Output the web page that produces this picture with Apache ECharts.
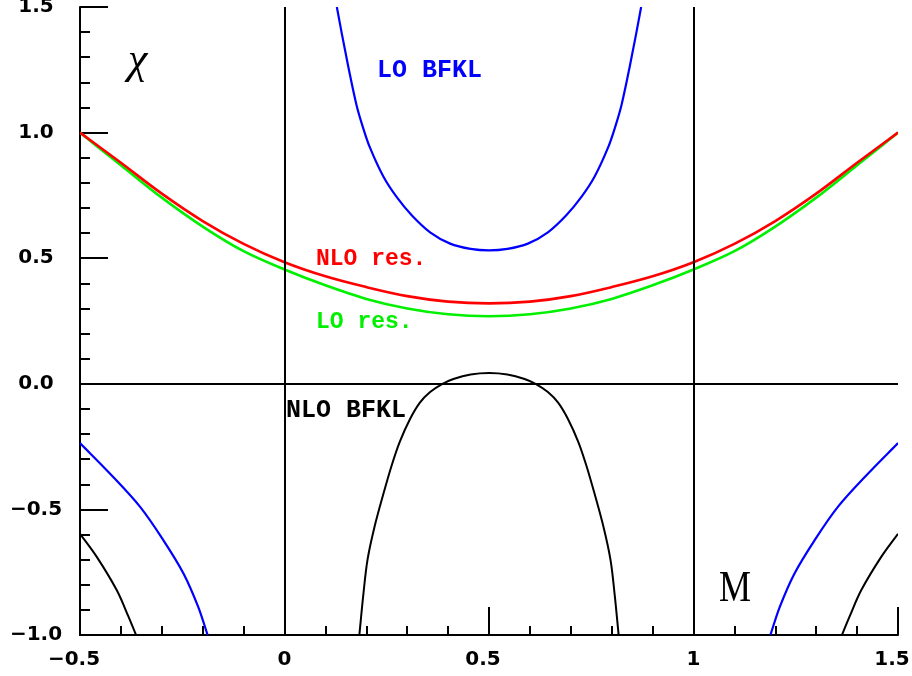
<!DOCTYPE html>
<html>
<head>
<meta charset="utf-8">
<script src="https://cdn.jsdelivr.net/npm/echarts@6/dist/echarts.min.js"></script>
<style>
html,body{margin:0;padding:0;background:#fff;}
#chart{width:912px;height:676px;}
</style>
</head>
<body>
<div id="chart"></div>
<script>
// ---- data ----
const xTicks = [-0.5, 0, 0.5, 1, 1.5];
const xTickLabels = ['\u22120.5', '0', '0.5', '1', '1.5'];
const yTicks = [-1, -0.5, 0, 0.5, 1, 1.5];
const yTickLabels = ['\u22121.0', '\u22120.5', '0.0', '0.5', '1.0', '1.5'];

const refLinesX = [0, 1];
const refLinesY = [0];

// LO BFKL (blue)
const loBfklMid = [[0.128,1.50],[0.140,1.395],[0.156,1.262],[0.176,1.110],[0.192,1.020],[0.209,0.940],[0.242,0.824],[0.274,0.744],[0.311,0.671],[0.356,0.603],[0.405,0.558],[0.455,0.537],[0.5,0.531],[0.545,0.537],[0.595,0.558],[0.644,0.603],[0.689,0.671],[0.726,0.744],[0.758,0.824],[0.791,0.940],[0.808,1.020],[0.824,1.110],[0.844,1.262],[0.860,1.395],[0.872,1.50]];
const loBfklLeft = [[-0.5,-0.236],[-0.427,-0.357],[-0.353,-0.490],[-0.296,-0.623],[-0.247,-0.755],[-0.211,-0.888],[-0.188,-1.0]];
const loBfklRight = [[1.188,-1.0],[1.211,-0.888],[1.247,-0.755],[1.296,-0.623],[1.353,-0.490],[1.427,-0.357],[1.5,-0.236]];

// NLO BFKL (black)
const nloBfklMid = [[0.183,-1.0],[0.193,-0.835],[0.203,-0.70],[0.220,-0.57],[0.242,-0.437],[0.262,-0.325],[0.282,-0.230],[0.307,-0.140],[0.331,-0.075],[0.356,-0.033],[0.384,-0.002],[0.413,0.019],[0.455,0.037],[0.5,0.043],[0.545,0.037],[0.587,0.019],[0.616,-0.002],[0.644,-0.033],[0.669,-0.075],[0.693,-0.140],[0.718,-0.230],[0.738,-0.325],[0.758,-0.437],[0.780,-0.57],[0.797,-0.70],[0.807,-0.835],[0.817,-1.0]];
const nloBfklLeft = [[-0.5,-0.597],[-0.459,-0.689],[-0.410,-0.822],[-0.382,-0.925],[-0.363,-1.0]];
const nloBfklRight = [[1.363,-1.0],[1.382,-0.925],[1.410,-0.822],[1.459,-0.689],[1.5,-0.597]];

// NLO resummed (red)
const nloRes = [[-0.5,1.000],[-0.4,0.880],[-0.3,0.757],[-0.2,0.648],[-0.1,0.557],[0.0,0.484],[0.1,0.428],[0.2,0.385],[0.3,0.349],[0.4,0.327],[0.5,0.320],[0.6,0.327],[0.7,0.349],[0.8,0.385],[0.9,0.428],[1.0,0.484],[1.1,0.557],[1.2,0.648],[1.3,0.757],[1.4,0.880],[1.5,1.000]];
// LO resummed (green)
const loRes = [[-0.5,1.000],[-0.4,0.870],[-0.3,0.741],[-0.2,0.626],[-0.1,0.528],[0.0,0.455],[0.1,0.392],[0.2,0.338],[0.3,0.300],[0.4,0.277],[0.5,0.269],[0.6,0.277],[0.7,0.300],[0.8,0.338],[0.9,0.392],[1.0,0.455],[1.1,0.528],[1.2,0.626],[1.3,0.741],[1.4,0.870],[1.5,1.000]];

// ---- chart ----
const chart = echarts.init(document.getElementById('chart'), null, {renderer: 'canvas'});

function labelFor(ticks, labels, v) {
  for (let i = 0; i < ticks.length; i++) {
    if (Math.abs(ticks[i] - v) < 1e-9) return labels[i];
  }
  return '';
}

// smooth path through pixel points (tangent from neighbours, handles scaled by chord length)
function bezierPath(p) {
  const n = p.length;
  const tan = p.map(function (pt, i) {
    const a = p[Math.max(0, i - 1)], b = p[Math.min(n - 1, i + 1)];
    const dx = b[0] - a[0], dy = b[1] - a[1];
    const l = Math.hypot(dx, dy) || 1;
    return [dx / l, dy / l];
  });
  let d = 'M' + p[0][0].toFixed(2) + ' ' + p[0][1].toFixed(2);
  for (let i = 0; i < n - 1; i++) {
    const L = Math.hypot(p[i + 1][0] - p[i][0], p[i + 1][1] - p[i][1]) / 3;
    const c1 = [p[i][0] + tan[i][0] * L, p[i][1] + tan[i][1] * L];
    const c2 = [p[i + 1][0] - tan[i + 1][0] * L, p[i + 1][1] - tan[i + 1][1] * L];
    d += ' C' + c1[0].toFixed(2) + ' ' + c1[1].toFixed(2) + ' ' + c2[0].toFixed(2) + ' ' + c2[1].toFixed(2) +
         ' ' + p[i + 1][0].toFixed(2) + ' ' + p[i + 1][1].toFixed(2);
  }
  return d;
}

function curve(name, data, color, width) {
  return {
    name: name, type: 'custom', coordinateSystem: 'cartesian2d',
    silent: true, clip: true, z: 3,
    data: [data[0]],
    encode: {x: 0, y: 1},
    renderItem: function (params, api) {
      const pts = data.map(function (d) { return api.coord(d); });
      return {
        type: 'path',
        shape: {pathData: bezierPath(pts)},
        style: {stroke: color, lineWidth: width, fill: 'none', lineJoin: 'round'}
      };
    }
  };
}

const tickFont = {fontFamily: 'DejaVu Sans', fontWeight: 'bold', fontSize: 20, color: '#000'};

const option = {
  backgroundColor: '#fff',
  animation: false,
  grid: {left: 80, right: 14, top: 7, bottom: 41, containLabel: false, outerBoundsMode: 'none'},
  xAxis: {
    type: 'value', min: -0.5, max: 1.5, interval: 0.5,
    axisLine: {show: true, onZero: false, lineStyle: {color: '#000', width: 2}},
    axisTick: {show: true, inside: true, length: 28, lineStyle: {color: '#000', width: 2}},
    minorTick: {show: true, splitNumber: 5, length: 9, lineStyle: {color: '#000', width: 2}},
    splitLine: {show: false},
    axisLabel: {
      margin: 15,
      formatter: function (v) {
        const s = labelFor(xTicks, xTickLabels, v);
        return s.indexOf('.') >= 0 ? '{t|' + s + '}{p|}' : '{t|' + s + '}';
      },
      rich: {
        t: tickFont,
        p: {width: 12, fontSize: 20}
      }
    }
  },
  yAxis: {
    type: 'value', min: -1, max: 1.5, interval: 0.5,
    axisLine: {show: true, onZero: false, lineStyle: {color: '#000', width: 2}},
    axisTick: {show: true, inside: true, length: 28, lineStyle: {color: '#000', width: 2}},
    minorTick: {show: true, splitNumber: 5, length: 10, lineStyle: {color: '#000', width: 2}},
    splitLine: {show: false},
    axisLabel: Object.assign({margin: 44, align: 'center', padding: [6, 0, 0, 0],
      formatter: function (v) { return labelFor(yTicks, yTickLabels, v); }}, tickFont)
  },
  series: [
    {
      name: 'ref', type: 'line', data: [], silent: true,
      markLine: {
        silent: true, symbol: ['none', 'none'], animation: false,
        label: {show: false},
        lineStyle: {color: '#000', width: 2, type: 'solid'},
        data: refLinesX.map(v => ({xAxis: v})).concat(refLinesY.map(v => ({yAxis: v})))
      }
    },
    curve('LO res.', loRes, '#00f000', 2.6),
    curve('NLO res.', nloRes, '#ff0000', 2.6),
    curve('LO BFKL', loBfklMid, '#0000ff', 2.2),
    curve('LO BFKL L', loBfklLeft, '#0000ff', 2.2),
    curve('LO BFKL R', loBfklRight, '#0000ff', 2.2),
    curve('NLO BFKL', nloBfklMid, '#000000', 2),
    curve('NLO BFKL L', nloBfklLeft, '#000000', 2),
    curve('NLO BFKL R', nloBfklRight, '#000000', 2)
  ],
  graphic: [
    {type: 'text', left: 128, top: 39, style: {text: '\u03c7', font: 'italic 44px "Liberation Serif"', fill: '#000'}},
    {type: 'text', left: 719, top: 567, scaleX: 0.8, style: {text: 'M', font: '45px "Liberation Serif"', fill: '#000'}},
    {type: 'text', left: 377, top: 58, style: {text: 'LO BFKL', font: 'bold 25px "Liberation Mono"', fill: '#0000ff'}},
    {type: 'text', left: 316, top: 248, style: {text: 'NLO res.', font: 'bold 23px "Liberation Mono"', fill: '#ff0000'}},
    {type: 'text', left: 316, top: 311, style: {text: 'LO res.', font: 'bold 23px "Liberation Mono"', fill: '#00f000'}},
    {type: 'text', left: 286, top: 398, style: {text: 'NLO BFKL', font: 'bold 25px "Liberation Mono"', fill: '#000'}}
  ]
};
chart.setOption(option);
</script>
</body>
</html>
